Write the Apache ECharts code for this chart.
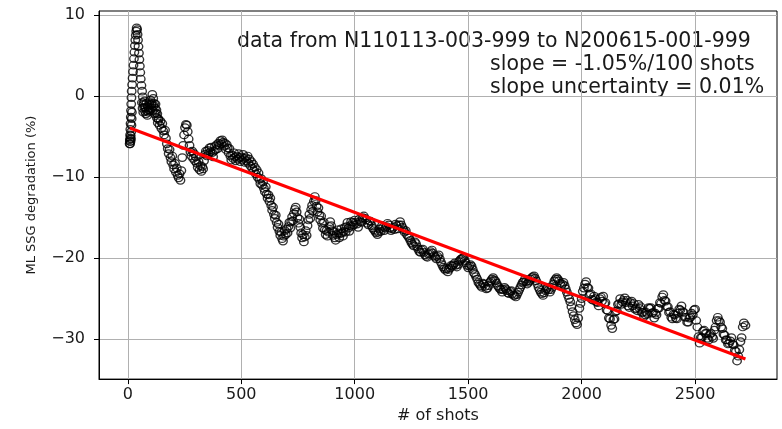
<!DOCTYPE html>
<html>
<head>
<meta charset="utf-8">
<title>ML SSG degradation</title>
<script src="https://cdn.jsdelivr.net/npm/echarts@6.0.0/dist/echarts.min.js"></script>
<style>
  html, body { margin: 0; padding: 0; background: #fff; }
  #chart { width: 782px; height: 429px; }
</style>
</head>
<body>
<div id="chart"></div>
<script>
// shot number of each measurement
const shots = [
  // spike at the start
  8, 9, 10, 11, 12, 13, 14, 15, 16, 17,
  19, 21, 23, 25, 27, 29, 31, 33, 35, 37,
  39, 41, 43, 45, 47, 49, 51, 53, 55, 57,
  60, 63, 66, 69, 72, 76, 80, 84, 88, 92,
  // 96 - 300
  96, 100, 104, 108, 112, 116, 120, 124, 128, 132,
  136, 140, 144, 148, 152, 156, 160, 164, 168, 172,
  176, 180, 184, 188, 192, 196, 200, 204, 208, 212,
  216, 220, 224, 228, 232, 236, 240, 244, 248, 252,
  256, 260, 264, 268, 272, 276, 280, 284, 288, 292,
  296, 300,
  // 304 - 640
  304, 308, 312, 316, 320, 324, 328, 332, 336, 340,
  344, 348, 352, 356, 360, 364, 368, 372, 376, 380,
  384, 388, 392, 396, 400, 404, 408, 412, 416, 420,
  424, 428, 432, 436, 440, 444, 448, 452, 456, 460,
  464, 468, 472, 476, 480, 484, 488, 492, 496, 500,
  504, 508, 512, 516, 520, 524, 528, 532, 536, 540,
  544, 548, 552, 556, 560, 564, 568, 572, 576, 580,
  584, 588, 592, 596, 600, 604, 608, 612, 616, 620,
  624, 628, 632, 636, 640,
  // 644 - 1000
  644, 648, 652, 656, 660, 664, 668, 672, 676, 680,
  684, 688, 692, 696, 700, 704, 708, 712, 716, 720,
  724, 728, 732, 736, 740, 744, 748, 752, 756, 760,
  764, 768, 772, 776, 780, 784, 788, 792, 796, 800,
  804, 808, 812, 816, 820, 824, 828, 832, 836, 840,
  844, 848, 852, 856, 860, 864, 868, 872, 876, 880,
  884, 888, 892, 896, 900, 904, 908, 912, 916, 920,
  924, 928, 932, 936, 940, 944, 948, 952, 956, 960,
  964, 968, 972, 976, 980, 984, 988, 992, 996, 1000,
  // 1005 - 1500
  1005, 1010, 1015, 1020, 1025, 1030, 1035, 1040, 1045, 1050,
  1055, 1060, 1065, 1070, 1075, 1080, 1085, 1090, 1095, 1100,
  1105, 1110, 1115, 1120, 1125, 1130, 1135, 1140, 1145, 1150,
  1155, 1160, 1165, 1170, 1175, 1180, 1185, 1190, 1195, 1200,
  1205, 1210, 1215, 1220, 1225, 1230, 1235, 1240, 1245, 1250,
  1255, 1260, 1265, 1270, 1275, 1280, 1285, 1290, 1295, 1300,
  1305, 1310, 1315, 1320, 1325, 1330, 1335, 1340, 1345, 1350,
  1355, 1360, 1365, 1370, 1375, 1380, 1385, 1390, 1395, 1400,
  1405, 1410, 1415, 1420, 1425, 1430, 1435, 1440, 1445, 1450,
  1455, 1460, 1465, 1470, 1475, 1480, 1485, 1490, 1495, 1500,
  // 1505 - 1995
  1505, 1510, 1515, 1520, 1525, 1530, 1535, 1540, 1545, 1550,
  1555, 1560, 1565, 1570, 1575, 1580, 1585, 1590, 1595, 1600,
  1605, 1610, 1615, 1620, 1625, 1630, 1635, 1640, 1645, 1650,
  1655, 1660, 1665, 1670, 1675, 1680, 1685, 1690, 1695, 1700,
  1705, 1710, 1715, 1720, 1725, 1730, 1735, 1740, 1745, 1750,
  1755, 1760, 1765, 1770, 1775, 1780, 1785, 1790, 1795, 1800,
  1805, 1810, 1815, 1820, 1825, 1830, 1835, 1840, 1845, 1850,
  1855, 1860, 1865, 1870, 1875, 1880, 1885, 1890, 1895, 1900,
  1905, 1910, 1915, 1920, 1925, 1930, 1935, 1940, 1945, 1950,
  1955, 1960, 1965, 1970, 1975, 1980, 1985, 1990, 1995,
  // 2000 - 2722
  2000, 2005, 2010, 2015, 2020, 2025, 2030, 2035, 2040, 2045,
  2050, 2055, 2060, 2065, 2070, 2075, 2080, 2085, 2090, 2095,
  2100, 2105, 2110, 2115, 2120, 2125, 2130, 2135, 2140, 2145,
  2150, 2155, 2160, 2165, 2170, 2175, 2180, 2185, 2190, 2195,
  2200, 2205, 2210, 2215, 2220, 2225, 2230, 2235, 2240, 2245,
  2250, 2255, 2260, 2265, 2270, 2275, 2280, 2285, 2290, 2295,
  2300, 2305, 2310, 2315, 2320, 2325, 2330, 2335, 2340, 2345,
  2350, 2355, 2360, 2365, 2370, 2375, 2380, 2385, 2390, 2395,
  2400, 2405, 2410, 2415, 2420, 2425, 2430, 2435, 2440, 2445,
  2450, 2455, 2460, 2465, 2470, 2475, 2480, 2485, 2490, 2495,
  2500, 2505, 2510, 2515, 2520, 2525, 2530, 2535, 2540, 2545,
  2550, 2555, 2560, 2565, 2570, 2575, 2580, 2585, 2590, 2595,
  2600, 2605, 2610, 2615, 2620, 2625, 2630, 2635, 2640, 2645,
  2650, 2655, 2660, 2665, 2670, 2675, 2680, 2685, 2690, 2695,
  2700, 2705, 2710, 2715, 2722,
  // repeated shots in the dense early cluster
  9, 10, 11, 12, 13, 14, 15, 16, 17, 18,
  62, 65, 68, 71, 74, 78, 82, 86, 90, 94,
  98, 102, 106, 110, 114, 118, 122, 126, 130, 134
];

// ML SSG degradation (%) for each shot above
const ssg = [
  -5.9, -5.4, -4.8, -4.1, -3.4, -2.6, -1.8, -1.0, -0.2, 0.6,
  1.4, 2.2, 3.0, 3.8, 4.6, 5.4, 6.2, 6.9, 7.5, 8.0,
  8.4, 8.2, 7.6, 6.9, 6.1, 5.3, 4.5, 3.7, 2.9, 2.1,
  1.3, 0.6, -0.1, -0.8, -1.4, -1.9, -2.2, -1.8, -1.3, -1.7,

  -1.0, -0.5, -1.1, 0.2, -0.3, -0.9, -1.5, -2.1, -2.7, -3.3,
  -2.9, -3.6, -3.1, -4.0, -3.4, -4.3, -4.8, -4.2, -5.2, -5.9,
  -6.5, -7.1, -6.6, -7.6, -8.1, -7.4, -8.5, -9.0, -8.3, -9.4,
  -8.9, -9.8, -10.1, -9.6, -10.4, -9.2, -7.6, -6.1, -4.8, -3.9,
  -3.5, -3.6, -4.4, -5.3, -6.1, -6.9, -7.4, -6.8, -7.7, -7.1,
  -8.0, -7.5,

  -8.3, -8.8, -8.1, -9.1, -8.6, -9.3, -8.7, -9.0, -8.0, -7.2,
  -6.8, -7.4, -6.7, -7.1, -6.4, -6.9, -6.3, -7.0, -7.5, -6.8,
  -6.2, -6.6, -6.0, -6.5, -5.8, -6.1, -5.5, -5.9, -5.4, -5.7,
  -6.2, -5.8, -6.6, -6.0, -6.4, -7.0, -6.5, -7.4, -7.9, -7.3,
  -7.7, -7.0, -7.5, -8.0, -7.4, -7.8, -7.1, -7.6, -8.1, -7.5,
  -7.9, -7.2, -7.7, -8.2, -7.6, -8.0, -7.4, -8.3, -7.8, -8.6,
  -8.1, -8.9, -8.4, -9.2, -8.8, -9.6, -9.1, -10.0, -9.5, -10.3,
  -10.8, -10.2, -11.0, -10.6, -11.4, -11.8, -11.2, -12.1, -12.6, -12.2,
  -13.0, -12.6, -13.5, -14.1, -13.7,

  -14.6, -15.1, -14.7, -15.6, -16.2, -15.8, -16.7, -17.2, -16.8, -17.6,
  -17.9, -17.3, -16.6, -17.1, -16.4, -16.9, -16.1, -15.6, -16.3, -15.5,
  -14.9, -15.4, -14.5, -14.0, -13.7, -14.3, -15.0, -15.7, -15.2, -16.2,
  -16.9, -17.5, -17.1, -18.0, -17.4, -16.6, -17.2, -16.0, -15.3, -14.6,
  -15.1, -14.0, -13.5, -14.2, -13.0, -12.4, -12.9, -13.6, -14.3, -13.8,
  -14.7, -15.3, -14.8, -15.7, -16.3, -15.6, -16.5, -17.1, -16.6, -17.3,
  -16.8, -16.1, -15.5, -16.0, -16.6, -17.2, -16.7, -17.5, -17.8, -17.1,
  -16.5, -16.9, -17.5, -17.0, -16.4, -16.9, -17.3, -16.7, -16.2, -16.8,
  -16.1, -15.6, -16.3, -16.7, -16.0, -15.5, -16.1, -15.6, -15.9, -15.3,

  -15.6, -15.8, -16.2, -15.2, -15.5, -15.6, -15.0, -14.8, -15.1, -15.3,
  -15.7, -15.9, -15.4, -15.5, -16.0, -16.3, -16.5, -16.7, -16.9, -17.1,
  -16.8, -16.4, -16.7, -16.0, -16.2, -16.6, -16.3, -16.1, -15.7, -15.9,
  -16.3, -16.6, -16.4, -16.2, -16.5, -15.8, -16.0, -16.4, -15.9, -15.5,
  -15.9, -16.2, -16.5, -16.8, -16.6, -17.1, -17.3, -17.5, -17.8, -18.1,
  -18.3, -18.5, -18.0, -18.2, -18.6, -18.9, -19.2, -19.3, -19.0, -18.9,
  -19.3, -19.6, -19.8, -19.9, -19.5, -19.4, -19.2, -19.0, -19.4, -19.7,
  -19.9, -20.1, -19.8, -19.6, -20.1, -20.5, -20.8, -21.1, -21.3, -21.5,
  -21.3, -21.7, -21.4, -21.2, -20.9, -21.0, -20.8, -20.6, -20.9, -21.1,
  -20.8, -20.4, -20.2, -20.1, -20.0, -19.9, -20.3, -20.6, -20.9, -21.2,

  -21.0, -20.8, -21.0, -21.4, -21.8, -22.0, -22.3, -22.6, -23.0, -23.2,
  -23.4, -23.6, -23.1, -23.2, -23.5, -23.8, -23.7, -23.4, -23.0, -22.8,
  -22.6, -22.4, -22.7, -22.8, -23.1, -23.4, -23.6, -23.8, -23.9, -24.2,
  -23.9, -23.6, -23.8, -24.0, -24.3, -24.4, -24.1, -24.0, -24.4, -24.6,
  -24.6, -24.8, -24.5, -24.2, -23.9, -23.6, -23.3, -23.0, -22.9, -22.6,
  -22.9, -23.2, -23.0, -22.8, -22.6, -22.4, -22.3, -22.2, -22.5, -22.8,
  -23.2, -23.6, -23.9, -24.2, -24.4, -24.6, -24.3, -24.0, -23.8, -23.6,
  -23.9, -24.2, -23.9, -23.6, -23.2, -22.8, -22.6, -22.4, -22.6, -22.8,
  -23.1, -23.4, -23.2, -23.0, -23.4, -23.8, -24.2, -24.6, -25.0, -25.4,
  -26.0, -26.6, -27.1, -27.6, -28.0, -28.2, -27.4, -26.2, -25.6,

  -25.0, -24.1, -23.7, -23.2, -22.9, -23.6, -23.7, -24.5, -24.4, -25.1,
  -25.2, -24.7, -25.0, -25.4, -25.5, -25.9, -25.0, -24.8, -25.3, -24.7,
  -25.6, -25.5, -26.4, -26.5, -27.4, -27.5, -28.3, -28.7, -27.6, -27.5,
  -26.6, -26.5, -25.7, -25.6, -25.0, -25.7, -25.4, -25.2, -24.9, -25.5,
  -25.2, -25.9, -26.1, -25.5, -25.3, -25.9, -25.6, -26.3, -26.2, -26.5,
  -25.7, -26.2, -26.0, -26.7, -26.7, -27.2, -27.0, -26.7, -26.9, -26.1,
  -26.2, -26.1, -26.8, -26.7, -27.4, -26.8, -27.0, -26.2, -26.2, -25.5,
  -25.6, -24.8, -24.5, -25.2, -25.3, -26.0, -26.0, -26.7, -26.6, -27.3,
  -27.5, -26.9, -27.0, -27.4, -27.5, -26.8, -26.3, -26.4, -25.9, -26.6,
  -26.7, -27.3, -27.3, -27.9, -27.9, -27.4, -27.3, -26.8, -27.0, -26.4,
  -26.3, -27.7, -28.5, -29.7, -30.5, -29.8, -29.8, -29.0, -28.9, -29.3,
  -29.3, -29.9, -30.1, -29.4, -29.3, -29.7, -29.9, -28.9, -28.5, -27.7,
  -27.3, -27.7, -27.9, -28.5, -28.7, -29.4, -29.5, -30.1, -30.1, -30.6,
  -30.5, -30.2, -29.8, -30.6, -30.7, -31.4, -31.5, -32.7, -32.1, -31.3,
  -30.3, -29.8, -28.5, -28.0, -28.3,

  -5.6, -5.9, -5.2, -5.6, -4.9, -5.3, -4.4, -3.6, -2.8, -2.0,
  -0.8, -1.5, -2.0, -1.1, -0.6, -1.4, -0.9, -2.4, -2.0, -0.8,
  -1.8, -1.5, -0.9, -1.8, -1.2, -2.2, -1.0, -1.7, -2.2, -2.8
];

// linear fit end points (slope -1.05%/100 shots)
const fitShots = [9, 2722];
const fitSsg = [-3.95, -32.45];

// axis ranges and tick labels
const xRange = [-127, 2861];
const yRange = [-34.93, 10.49];
const xTicks = [0, 500, 1000, 1500, 2000, 2500];
const yTicks = [-30, -20, -10, 0, 10];

const notes = [
  'data from N110113-003-999 to N200615-001-999',
  'slope = -1.05%/100 shots',
  'slope uncertainty = 0.01%'
];

const font = 'DejaVu Sans';
const minus = v => String(v).replace('-', '\u2212');

const points = shots.map((s, i) => [s, ssg[i]]);
const fitLine = fitShots.map((s, i) => [s, fitSsg[i]]);

const chart = echarts.init(document.getElementById('chart'));

chart.setOption({
  animation: false,
  backgroundColor: '#fff',
  textStyle: { fontFamily: font },
  grid: {
    left: 99, right: 5, top: 11, bottom: 47,
    show: true, borderColor: '#000', borderWidth: 1
  },
  xAxis: {
    type: 'value',
    min: xRange[0], max: xRange[1],
    minInterval: 500, maxInterval: 500,
    name: '# of shots',
    nameLocation: 'middle',
    nameGap: 27,
    nameTextStyle: { fontSize: 16, color: '#1a1a1a', fontFamily: font },
    axisLine: { show: true, onZero: false, lineStyle: { color: '#000', width: 1 } },
    axisTick: { show: true, length: 5, customValues: xTicks, lineStyle: { color: '#000' } },
    axisLabel: { fontSize: 16, color: '#1a1a1a', margin: 8, customValues: xTicks, formatter: minus },
    splitLine: { show: true, lineStyle: { color: '#b0b0b0', width: 1 } }
  },
  yAxis: {
    type: 'value',
    min: yRange[0], max: yRange[1],
    minInterval: 10, maxInterval: 10,
    name: 'ML SSG degradation (%)',
    nameLocation: 'middle',
    nameGap: 61,
    nameTextStyle: { fontSize: 13, color: '#1a1a1a', fontFamily: font },
    axisLine: { show: true, onZero: false, lineStyle: { color: '#000', width: 1 } },
    axisTick: { show: true, length: 5, customValues: yTicks, lineStyle: { color: '#000' } },
    axisLabel: { fontSize: 16, color: '#1a1a1a', margin: 14, customValues: yTicks, formatter: minus },
    splitLine: { show: true, lineStyle: { color: '#b0b0b0', width: 1 } }
  },
  series: [
    {
      type: 'scatter',
      data: points,
      symbol: 'circle',
      symbolSize: [8.5, 7.5],
      itemStyle: { color: 'rgba(0,0,0,0)', borderColor: '#000', borderWidth: 1.3 },
      emphasis: { disabled: true },
      z: 2
    },
    {
      type: 'line',
      data: fitLine,
      showSymbol: false,
      lineStyle: { color: '#ff0000', width: 3 },
      emphasis: { disabled: true },
      z: 3
    }
  ],
  graphic: [
    { type: 'text', left: 237, top: 31, style: { text: notes[0], font: '20.5px "DejaVu Sans"', fill: '#1a1a1a' } },
    { type: 'text', left: 490, top: 54, style: { text: notes[1], font: '20.5px "DejaVu Sans"', fill: '#1a1a1a' } },
    { type: 'text', left: 490, top: 77, style: { text: notes[2], font: '20.5px "DejaVu Sans"', fill: '#1a1a1a' } }
  ]
});
</script>
</body>
</html>
